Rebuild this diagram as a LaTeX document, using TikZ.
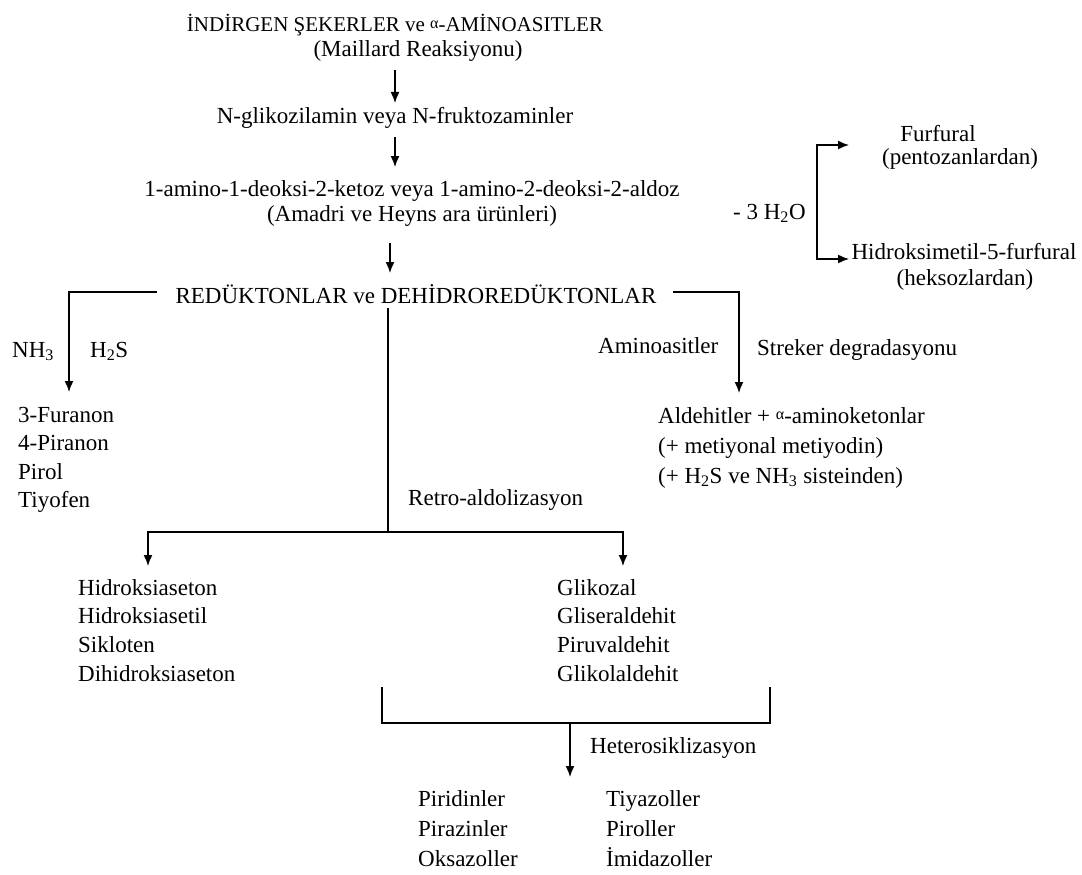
\documentclass[tikz,border=0pt]{standalone}
\usepackage{fontspec}
\setmainfont{Liberation Serif}
\usetikzlibrary{arrows.meta}
\newcommand{\alf}{\raisebox{0.35ex}{\fontsize{16}{16}\selectfont α}}
\begin{document}
\begin{tikzpicture}[x=1pt,y=-1pt,
  txt/.style={inner sep=0pt, font=\fontsize{23}{29}\selectfont},
  ln/.style={line width=1.5pt},
  arr/.style={ln,-{Latex[length=11pt,width=9pt]}}]
\useasboundingbox (0,0) rectangle (1082,875);
\fill[white] (0,0) rectangle (1082,875);

% main chain
\node[txt,anchor=base,font=\fontsize{21}{29}\selectfont] (t1) at (395,32) {İNDİRGEN ŞEKERLER ve \alf-AMİNOASITLER};
\node[txt,anchor=base] (t2) at (418,57) {(Maillard Reaksiyonu)};
\node[txt,anchor=base] (g1) at (395,124) {N-glikozilamin veya N-fruktozaminler};
\node[txt,anchor=base] (a1) at (412,196) {1-amino-1-deoksi-2-ketoz veya 1-amino-2-deoksi-2-aldoz};
\node[txt,anchor=base] (a2) at (412,221) {(Amadri ve Heyns ara ürünleri)};
\node[txt,anchor=base] (r) at (416,303) {REDÜKTONLAR ve DEHİDROREDÜKTONLAR};

\coordinate (c1s) at (395,70);  \coordinate (c1e) at (395,103);
\coordinate (c2s) at (395,137); \coordinate (c2e) at (395,167);
\coordinate (c3s) at (390,243); \coordinate (c3e) at (390,273);
\draw[arr] (c1s) -- (c1e);
\draw[arr] (c2s) -- (c2e);
\draw[arr] (c3s) -- (c3e);

% furfural
\node[txt,anchor=base] (f1) at (938,141) {Furfural};
\node[txt,anchor=base] (f2) at (960,164) {(pentozanlardan)};
\node[txt,anchor=base] (h1) at (964,259) {Hidroksimetil-5-furfural};
\node[txt,anchor=base] (h2) at (965,285) {(heksozlardan)};
\node[txt,anchor=base west] (w) at (733,219) {- 3 H\textsubscript{2}O};
\coordinate (fm) at (817,200);
\coordinate (fa) at (849,145);
\coordinate (fb) at (849,259);
\draw[arr] (fm) |- (fa);
\draw[arr] (fm) |- (fb);

% left branch
\node[txt,anchor=base west] (nh) at (12,357) {NH\textsubscript{3}};
\node[txt,anchor=base west] (hs) at (90,357) {H\textsubscript{2}S};
\coordinate (ls) at (157,292);
\coordinate (lb) at (69,392);
\draw[arr] (ls) -| (lb);
\foreach \t [count=\i] in {3-Furanon,4-Piranon,Pirol,Tiyofen}
  \node[txt,anchor=base west] (fu\i) at (18,{422+28.5*(\i-1)}) {\t};

% right branch
\node[txt,anchor=base west] (am) at (598,353) {Aminoasitler};
\node[txt,anchor=base west] (st) at (757,355) {Streker degradasyonu};
\coordinate (rs) at (673,292);
\coordinate (rb) at (739,393);
\draw[arr] (rs) -| (rb);
\node[txt,anchor=base west] (al1) at (658,423) {Aldehitler + \alf-aminoketonlar};
\node[txt,anchor=base west] (al2) at (658,453) {(+ metiyonal metiyodin)};
\node[txt,anchor=base west] (al3) at (658,483) {(+ H\textsubscript{2}S ve NH\textsubscript{3} sisteinden)};

% middle branch
\node[txt,anchor=base west] (ra) at (408,505) {Retro-aldolizasyon};
\coordinate (ms) at (388,308);
\coordinate (mj) at (388,532);
\coordinate (hl) at (148,566);
\coordinate (gl) at (623,566);
\draw[ln] (ms) -- (mj);
\draw[arr] (mj) -| (hl);
\draw[arr] (mj) -| (gl);
\foreach \t [count=\i] in {Hidroksiaseton,Hidroksiasetil,Sikloten,Dihidroksiaseton}
  \node[txt,anchor=base west] (hx\i) at (78,{595+28.7*(\i-1)}) {\t};
\foreach \t [count=\i] in {Glikozal,Gliseraldehit,Piruvaldehit,Glikolaldehit}
  \node[txt,anchor=base west] (gk\i) at (557,{595+28.7*(\i-1)}) {\t};

% bracket and final
\coordinate (bl) at (382,687);
\coordinate (br) at (770,687);
\draw[ln] (bl) -- ++(0,36) -| (br);
\coordinate (hj) at (570,723);
\coordinate (ht) at (570,777);
\draw[arr] (hj) -- (ht);
\node[txt,anchor=base west] (he) at (590,753) {Heterosiklizasyon};
\foreach \t [count=\i] in {Piridinler,Pirazinler,Oksazoller}
  \node[txt,anchor=base west] (pa\i) at (418,{806+30*(\i-1)}) {\t};
\foreach \t [count=\i] in {Tiyazoller,Piroller,İmidazoller}
  \node[txt,anchor=base west] (pb\i) at (606,{806+30*(\i-1)}) {\t};
\end{tikzpicture}
\end{document}
